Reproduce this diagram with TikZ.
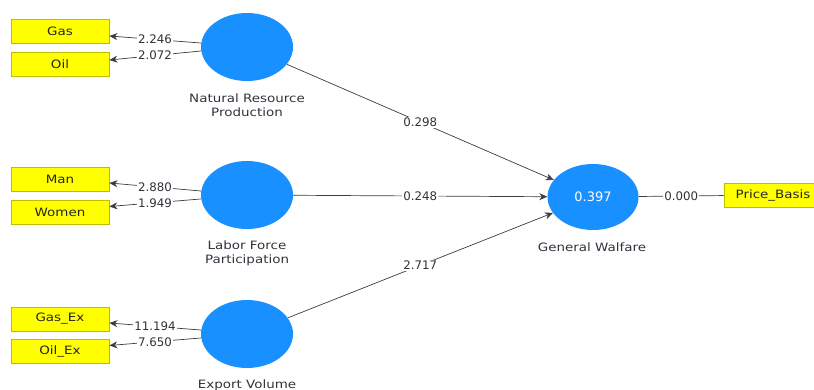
\documentclass[tikz,border=0pt]{standalone}
\usepackage{fontspec}
\setmainfont{DejaVu Sans}
\newfontfamily\widefont[FakeStretch=1.17]{DejaVu Sans}
\usetikzlibrary{arrows.meta,shapes.geometric}
\definecolor{circ}{RGB}{24,144,255}
\definecolor{boxy}{RGB}{255,255,0}
\definecolor{boxb}{RGB}{190,190,0}
\definecolor{txt}{RGB}{50,50,60}
\definecolor{ln}{RGB}{60,60,60}
\tikzset{
  ind/.style={draw=boxb, fill=boxy, line width=0.8pt, minimum width=98pt, minimum height=24pt, inner sep=0pt, font=\widefont\fontsize{11.5}{13}\selectfont, text=black!85},
  lat/.style={ellipse, fill=circ, minimum width=92pt, minimum height=68pt, inner sep=0pt, text=white, font=\fontsize{13}{14}\selectfont},
  captext/.style={align=center, text=txt, font=\widefont\fontsize{11.5}{14}\selectfont},
  val/.style={fill=white, inner sep=1pt, text=txt, font=\fontsize{11.8}{13}\selectfont},
  arr/.style={draw=ln, line width=0.7pt, -{Stealth[length=8pt,width=7pt]}},
  plain/.style={draw=ln, line width=0.7pt}
}
\begin{document}
\begin{tikzpicture}[x=1pt,y=-1pt]
\useasboundingbox (0,0) rectangle (814,390);
% indicators
\node[ind] (gas) at (60,31) {Gas};
\node[ind] (oil) at (60,64) {Oil};
\node[ind] (man) at (60,179) {Man};
\node[ind] (women) at (60,212.5) {Women};
\node[ind] (gasex) at (60,319) {Gas\_Ex};
\node[ind] (oilex) at (60,351.5) {Oil\_Ex};
\node[ind] (price) at (773,195) {Price\_Basis};
% latent
\node[lat] (nrp) at (247,47) {};
\node[lat] (lfp) at (247,195) {};
\node[lat] (ev) at (247,334) {};
\node[lat, minimum width=91pt, minimum height=66pt] (gw) at (593,197) {0.397};
% captions
\node[captext] (nrpc) at (247,105) {Natural Resource\\Production};
\node[captext] (lfpc) at (247,253) {Labor Force\\Participation};
\node[captext] (evc) at (247,385) {Export Volume};
\node[captext] (gwc) at (592,247) {General Walfare};
% loadings
\draw[arr] ([yshift=4pt]nrp.west) -- node[val]{2.246} ([yshift=-5pt]gas.east);
\draw[arr] ([yshift=-4pt]nrp.west) -- node[val]{2.072} ([yshift=4pt]oil.east);
\draw[arr] ([yshift=4pt]lfp.west) -- node[val]{2.880} ([yshift=-4pt]man.east);
\draw[arr] ([yshift=-4pt]lfp.west) -- node[val]{1.949} ([yshift=6pt]women.east);
\draw[arr] ([yshift=4pt]ev.west) -- node[val]{11.194} ([yshift=-4pt]gasex.east);
\draw[arr] ([yshift=-4pt]ev.west) -- node[val]{7.650} ([yshift=6pt]oilex.east);
% paths
\draw[arr] (nrp) -- node[val]{0.298} (gw);
\draw[arr] (lfp) -- node[val]{0.248} (gw);
\draw[arr] (ev) -- node[val]{2.717} (gw);
\draw[plain] (gw) -- node[val]{0.000} (price);
\end{tikzpicture}
\end{document}
